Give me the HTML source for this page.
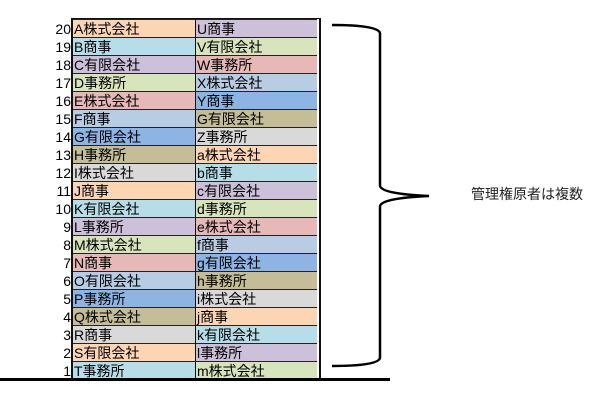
<!DOCTYPE html>
<html><head><meta charset="utf-8"><style>
body{margin:0;width:607px;height:400px;background:#fff;position:relative;overflow:hidden;font-family:"Liberation Sans","Noto Sans CJK JP",sans-serif;}
.n{position:absolute;left:40px;width:31px;text-align:right;font-size:14px;line-height:18px;}
.c{position:absolute;height:17px;line-height:18px;font-size:14px;border-top:1px solid #222;box-sizing:content-box;padding-left:1px;overflow:hidden;white-space:nowrap;}
</style></head><body>
<div id="t"></div>
<div style="position:absolute;left:71px;top:18px;width:246px;height:360px;border:2px solid #111;border-top:1px solid #111"></div>
<div style="position:absolute;left:195px;top:19px;width:1px;height:360px;background:#111"></div>
<div style="position:absolute;left:0;top:378px;width:390px;height:3px;background:#000"></div>
<svg style="position:absolute;left:0;top:0" width="607" height="400">
<path d="M332 25 Q378 25 380 33 L380 186 Q382 194 429 196 Q382 198 380 206 L380 358 Q378 366 332 366" fill="none" stroke="#000" stroke-width="2.5"/>
</svg>
<div style="position:absolute;left:471px;top:185px;font-size:14px;line-height:18px;color:#222">管理権原者は複数</div>
<script>
var cols=["#fcd5b4","#b7dee8","#ccc0da","#d8e4bc","#e6b8b7","#b8cce4","#8db4e2","#c4bd97","#d9d9d9"];
var L=["A株式会社","B商事","C有限会社","D事務所","E株式会社","F商事","G有限会社","H事務所","I株式会社","J商事","K有限会社","L事務所","M株式会社","N商事","O有限会社","P事務所","Q株式会社","R商事","S有限会社","T事務所"];
var R=["U商事","V有限会社","W事務所","X株式会社","Y商事","G有限会社","Z事務所","a株式会社","b商事","c有限会社","d事務所","e株式会社","f商事","g有限会社","h事務所","i株式会社","j商事","k有限会社","l事務所","m株式会社"];
var h="";
for(var i=0;i<20;i++){var y=19+i*18;
h+='<div class="n" style="top:'+(y+1)+'px">'+(20-i)+'</div>';
h+='<div class="c" style="left:73px;width:121px;top:'+y+'px;background:'+cols[i%9]+'">'+L[i]+'</div>';
h+='<div class="c" style="left:196px;width:120px;top:'+y+'px;background:'+cols[(i+2)%9]+'">'+R[i]+'</div>';}
document.getElementById("t").innerHTML=h;
</script>
</body></html>
